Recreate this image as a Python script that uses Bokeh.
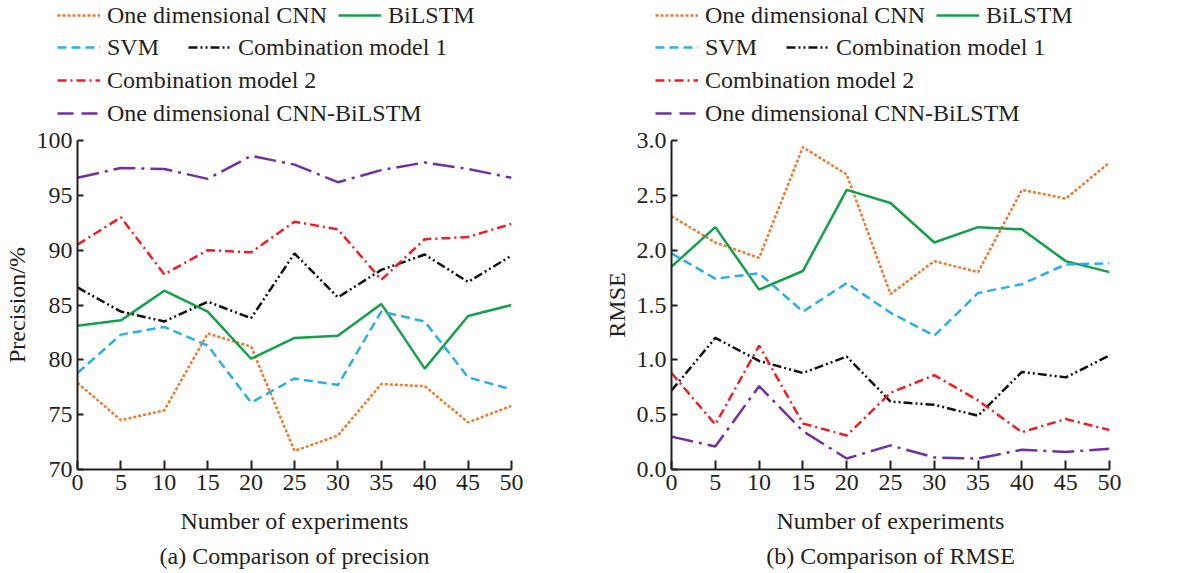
from bokeh.plotting import figure
from bokeh.layouts import row, column
from bokeh.models import Range1d, FixedTicker, Legend, LegendItem, Title, PrintfTickFormatter
from bokeh.embed import file_html
from bokeh.resources import INLINE

x = [0, 5, 10, 15, 20, 25, 30, 35, 40, 45, 50]

names = ["One dimensional CNN", "BiLSTM", "SVM", "Combination model 1",
         "Combination model 2", "One dimensional CNN-BiLSTM"]

prec_cnn = [77.9, 74.5, 75.4, 82.4, 81.2, 71.7, 73.1, 77.8, 77.6, 74.3, 75.8]
prec_bilstm = [83.1, 83.6, 86.3, 84.4, 80.1, 82.0, 82.2, 85.1, 79.2, 84.0, 85.0]
prec_svm = [78.8, 82.3, 83.0, 81.3, 76.1, 78.3, 77.7, 84.4, 83.5, 78.4, 77.3]
prec_comb1 = [86.6, 84.4, 83.5, 85.3, 83.8, 89.7, 85.7, 88.2, 89.6, 87.1, 89.5]
prec_comb2 = [90.5, 93.0, 87.8, 90.0, 89.8, 92.6, 91.9, 87.3, 91.0, 91.2, 92.4]
prec_cnnbilstm = [96.6, 97.5, 97.4, 96.5, 98.6, 97.8, 96.2, 97.3, 98.0, 97.4, 96.6]

rmse_cnn = [2.31, 2.07, 1.93, 2.94, 2.69, 1.60, 1.90, 1.80, 2.55, 2.47, 2.80]
rmse_bilstm = [1.85, 2.21, 1.64, 1.81, 2.55, 2.43, 2.07, 2.21, 2.19, 1.90, 1.80]
rmse_svm = [1.97, 1.74, 1.79, 1.44, 1.70, 1.43, 1.22, 1.61, 1.69, 1.87, 1.88]
rmse_comb1 = [0.72, 1.20, 0.99, 0.88, 1.03, 0.62, 0.59, 0.49, 0.89, 0.84, 1.04]
rmse_comb2 = [0.88, 0.41, 1.13, 0.42, 0.31, 0.70, 0.86, 0.63, 0.34, 0.46, 0.36]
rmse_cnnbilstm = [0.30, 0.21, 0.76, 0.35, 0.10, 0.22, 0.11, 0.10, 0.18, 0.16, 0.19]

x_ticks = [0, 5, 10, 15, 20, 25, 30, 35, 40, 45, 50]
prec_ticks = [70, 75, 80, 85, 90, 95, 100]
rmse_ticks = [0.0, 0.5, 1.0, 1.5, 2.0, 2.5, 3.0]

colors = ["#EE7A30", "#12A04A", "#2BB0E6", "#111111", "#F01E23", "#7030A0"]
dashes = ["3 2", "solid", "9 5", "9 3 2 3 2 3", "9 4 2 4", "22 6 3 6"]
legend_dashes = ["3 2", "solid", "9 5", "9 3 2 3 2 3", "9 4 2 4", "16 8"]

FONT = "Liberation Serif"
FS = "24px"
TXT = "#231F20"
LEG_H = 128


def make_legend_fig(series, dx):
    # a strip holding only the legend; its proxy lines fall outside its ranges
    q = figure(width=600, height=LEG_H, output_backend="svg", toolbar_location=None,
               x_range=Range1d(1000, 1001), y_range=Range1d(1000, 1001),
               min_border_left=0, min_border_right=0, min_border_top=0, min_border_bottom=0)
    q.axis.visible = False
    q.grid.visible = False
    q.outline_line_color = None
    proxies = []
    for ys, c, d in zip(series, colors, legend_dashes):
        r = q.line(x, ys, line_color=c, line_width=2.5, line_dash=d)
        proxies.append(r)
    rows = [([0, 1], 99, 11), ([2, 3], 67, 29), ([4], 34, 10), ([5], 1, 10)]
    for idxs, vy, sp in rows:
        items = [LegendItem(label=names[i], renderers=[proxies[i]]) for i in idxs]
        lg = Legend(items=items, orientation="horizontal", location=(dx, vy),
                    spacing=sp, padding=0, margin=0, glyph_width=43, glyph_height=28,
                    label_height=28, label_standoff=7,
                    label_text_font=FONT, label_text_font_size=FS, label_text_color=TXT,
                    background_fill_alpha=0, border_line_color=None)
        q.add_layout(lg, "center")
    return q


def make_fig(series, yrange, yticks, ylabel, subtitle, left_border, right_border, yfmt=None):
    p = figure(width=600, height=573 - LEG_H, output_backend="svg", toolbar_location=None,
               x_range=Range1d(0, 50), y_range=Range1d(*yrange),
               min_border_left=left_border, min_border_right=right_border,
               min_border_top=140 - LEG_H, min_border_bottom=103)
    p.outline_line_color = None
    p.xgrid.visible = False
    p.ygrid.visible = False

    for ys, c, d in zip(series, colors, dashes):
        p.line(x, ys, line_color=c, line_width=2.5, line_dash=d)

    for ax in (p.xaxis[0], p.yaxis[0]):
        ax.axis_line_color = "#231F20"
        ax.axis_line_width = 2
        ax.major_tick_line_color = "#231F20"
        ax.major_tick_line_width = 2
        ax.major_tick_out = 0
        ax.minor_tick_line_color = None
        ax.major_label_text_font = FONT
        ax.major_label_text_font_size = FS
        ax.major_label_text_color = TXT
        ax.axis_label_text_font = FONT
        ax.axis_label_text_font_size = FS
        ax.axis_label_text_color = TXT
        ax.axis_label_text_font_style = "normal"
        ax.major_label_standoff = 5

    p.xaxis[0].ticker = FixedTicker(ticks=x_ticks)
    p.xaxis[0].major_tick_in = 9
    p.xaxis[0].axis_label = "Number of experiments"
    p.xaxis[0].axis_label_standoff = 15
    p.yaxis[0].ticker = FixedTicker(ticks=yticks)
    p.yaxis[0].major_tick_in = 6
    p.yaxis[0].axis_label = ylabel
    p.yaxis[0].axis_label_standoff = 4
    if yfmt:
        p.yaxis[0].formatter = PrintfTickFormatter(format=yfmt)

    t = Title(text=subtitle, align="center", text_font=FONT, text_font_size=FS,
              text_color=TXT, text_font_style="normal", standoff=9)
    p.add_layout(t, "below")
    return p


prec = [prec_cnn, prec_bilstm, prec_svm, prec_comb1, prec_comb2, prec_cnnbilstm]
rmse = [rmse_cnn, rmse_bilstm, rmse_svm, rmse_comb1, rmse_comb2, rmse_cnnbilstm]

p1 = make_fig(prec, (70, 100), prec_ticks, "Precision/%", "(a) Comparison of precision", 67, 89)
p2 = make_fig(rmse, (0, 3), rmse_ticks, "RMSE", "(b) Comparison of RMSE", 66, 91, yfmt="%.1f")

layout = column(row(make_legend_fig(prec, 57), make_legend_fig(rmse, 55)), row(p1, p2))
open("out.html", "w").write(file_html(layout, INLINE))
